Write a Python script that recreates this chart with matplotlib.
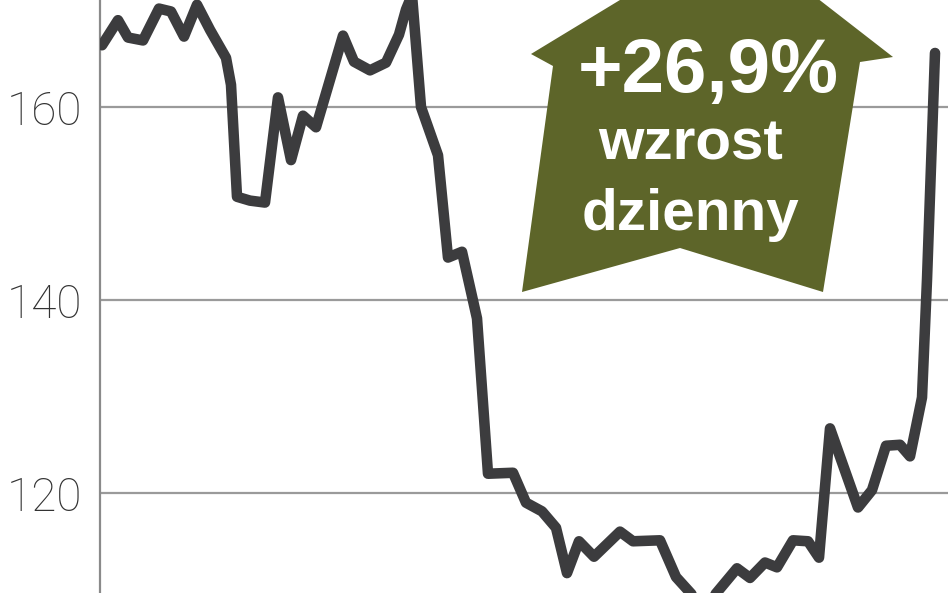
import matplotlib
matplotlib.use("Agg")
from matplotlib import pyplot as plt
from matplotlib.patches import Polygon

# price series (x = position along the time axis)
days = [2, 18, 28, 43, 59, 71, 84, 97, 110, 126, 131, 137, 150, 165, 178,
        191, 203, 216, 243, 254, 270, 286, 299, 306, 312, 321, 338, 348, 362,
        377, 388, 413, 426, 442, 456, 467, 479, 494, 520, 533, 560, 576, 604,
        637, 650, 665, 677, 693, 708, 719, 730, 758, 772, 786, 800, 810, 822,
        827, 835]
prices = [166.4, 169.0, 167.2, 166.9, 170.2, 169.9, 167.3, 170.6, 168.0,
          165.1, 162.3, 150.7, 150.3, 150.1, 161.0, 154.5, 159.1, 157.9,
          167.4, 164.7, 163.8, 164.6, 167.5, 170.1, 171.6, 160.0, 155.0,
          144.4, 145.0, 138.1, 122.0, 122.1, 119.0, 118.1, 116.4, 111.7,
          115.0, 113.4, 116.0, 115.0, 115.1, 111.3, 108.1, 112.2, 111.2,
          112.8, 112.3, 115.1, 115.0, 113.3, 126.7, 118.5, 120.3, 124.9,
          125.0, 123.8, 129.9, 142.1, 165.6]
y_ticks = [120, 140, 160]
badge_lines = ["+26,9%", "wzrost", "dzienny"]

W, H = 948, 593
fig = plt.figure(figsize=(W / 100, H / 100), dpi=100)
ax = fig.add_axes([100 / W, 0, 848 / W, 1])

ax.plot(days, prices, color="#3c3c3e", linewidth=7.6,
        solid_joinstyle="round", solid_capstyle="round", zorder=3)

ax.set_xlim(0, 848)
ax.set_ylim(109.64, 171.09)
ax.set_xticks([])
ax.set_yticks(y_ticks)
ax.set_yticklabels([str(v) for v in y_ticks], family=["Roboto", "DejaVu Sans"],
                   fontweight="light", fontsize=33, color="#333333")
ax.tick_params(axis="y", length=0, pad=13)
ax.yaxis.grid(True, color="#9a9a9a", linewidth=1.6)
ax.set_axisbelow(True)
for side in ["top", "right", "bottom"]:
    ax.spines[side].set_visible(False)
ax.spines["left"].set_color("#8a8a8a")
ax.spines["left"].set_linewidth(1.6)


def px(x, y):
    return (x / W, 1 - y / H)


# olive arrow badge
arrow_pts = [(732, -68), (893, 57), (860, 62), (823, 292), (680, 248),
             (522, 292), (553, 66), (531, 54)]
badge = Polygon([px(*p) for p in arrow_pts], closed=True,
                transform=fig.transFigure, facecolor="#5d6529",
                edgecolor="none", zorder=4)
fig.patches.append(badge)

font = ["Liberation Sans", "DejaVu Sans"]
fig.text(*px(708, 92), badge_lines[0], family=font,
         fontweight="bold", fontsize=55, color="white", ha="center",
         va="baseline", zorder=5)
fig.text(*px(691, 160), badge_lines[1], family=font,
         fontweight="bold", fontsize=42, color="white", ha="center",
         va="baseline", zorder=5)
fig.text(*px(690, 230), badge_lines[2], family=font,
         fontweight="bold", fontsize=42, color="white", ha="center",
         va="baseline", zorder=5)

fig.savefig("out.png", dpi=100)
